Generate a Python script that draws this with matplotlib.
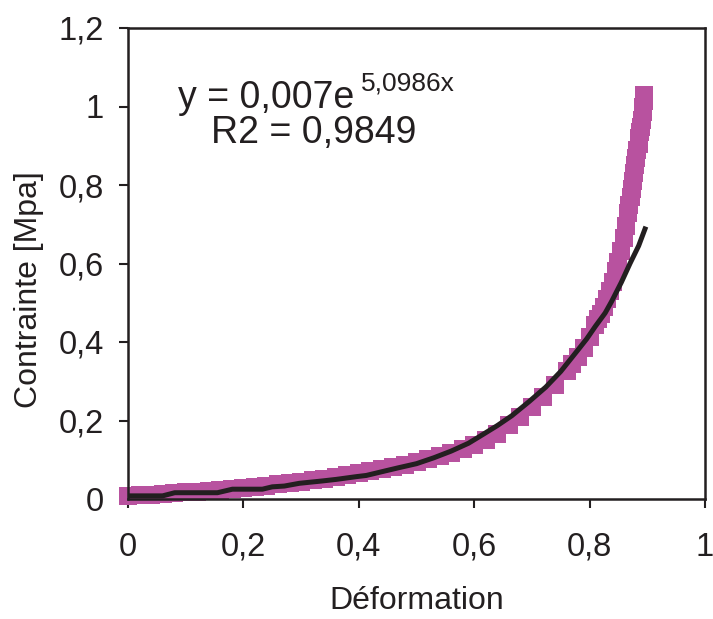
import matplotlib
matplotlib.use("Agg")
import matplotlib.pyplot as plt

# band of measured points (magenta squares)
strain = [0.00, 0.02, 0.04, 0.06, 0.08, 0.10, 0.12, 0.14, 0.16, 0.18,
          0.20, 0.22, 0.24, 0.26, 0.28, 0.30, 0.32, 0.34, 0.36, 0.38,
          0.40, 0.42, 0.44, 0.46, 0.48, 0.50, 0.52, 0.54, 0.56, 0.58,
          0.60, 0.62, 0.64, 0.66, 0.68, 0.70, 0.72, 0.74, 0.76, 0.77,
          0.78, 0.79, 0.80, 0.81, 0.815, 0.82, 0.825, 0.83, 0.835, 0.84,
          0.845, 0.85, 0.855, 0.86, 0.863, 0.867, 0.869, 0.871, 0.873, 0.875,
          0.877, 0.879, 0.881, 0.883, 0.885, 0.886, 0.888, 0.889, 0.891, 0.892,
          0.893, 0.894, 0.895]
stress = [0.008, 0.009, 0.011, 0.013, 0.015, 0.017, 0.019, 0.021, 0.023, 0.026,
          0.028, 0.031, 0.034, 0.037, 0.040, 0.044, 0.048, 0.052, 0.056, 0.061,
          0.066, 0.071, 0.076, 0.081, 0.087, 0.094, 0.101, 0.109, 0.118, 0.127,
          0.137, 0.150, 0.165, 0.188, 0.210, 0.235, 0.260, 0.290, 0.325, 0.343,
          0.362, 0.385, 0.413, 0.443, 0.458, 0.472, 0.490, 0.510, 0.530, 0.553,
          0.580, 0.605, 0.632, 0.665, 0.695, 0.729, 0.750, 0.770, 0.790, 0.810,
          0.830, 0.850, 0.870, 0.890, 0.905, 0.920, 0.935, 0.948, 0.965, 0.985,
          1.000, 1.015, 1.030]

# exponential trend line (black)
fit_x = [0.000, 0.060, 0.081, 0.155, 0.181, 0.233, 0.250, 0.271, 0.297, 0.337,
         0.361, 0.396, 0.413, 0.447, 0.470, 0.500, 0.530, 0.560, 0.590, 0.608,
         0.640, 0.665, 0.695, 0.724, 0.750, 0.781, 0.795, 0.810, 0.827, 0.838,
         0.855, 0.870, 0.885, 0.896]
fit_y = [0.008, 0.008, 0.016, 0.016, 0.025, 0.025, 0.031, 0.033, 0.040, 0.046,
         0.050, 0.057, 0.060, 0.072, 0.080, 0.090, 0.105, 0.122, 0.142, 0.158,
         0.187, 0.212, 0.248, 0.285, 0.325, 0.382, 0.408, 0.440, 0.474, 0.503,
         0.552, 0.600, 0.645, 0.688]

xticks = [0, 0.2, 0.4, 0.6, 0.8, 1]
xlabels = ["0", "0,2", "0,4", "0,6", "0,8", "1"]
yticks = [0, 0.2, 0.4, 0.6, 0.8, 1, 1.2]
ylabels = ["0", "0,2", "0,4", "0,6", "0,8", "1", "1,2"]

dark = "#231F20"
magenta = "#B8529F"
plt.rcParams["font.family"] = ["Liberation Sans", "DejaVu Sans"]

fig = plt.figure(figsize=(7.13, 6.19), dpi=100)
ax = fig.add_axes([128 / 713, 120 / 619, 577 / 713, 471 / 619])

ax.plot(strain, stress, linestyle="none", marker="s", markersize=13.5,
        color=magenta, markeredgewidth=0, clip_on=False, zorder=2)
ax.plot(fit_x, fit_y, color=dark, linewidth=3.6, zorder=3,
        solid_joinstyle="round")

ax.set_xlim(0, 1)
ax.set_ylim(0, 1.2)
ax.set_xticks(xticks)
ax.set_xticklabels(xlabels)
ax.set_yticks(yticks)
ax.set_yticklabels(ylabels)
ax.tick_params(axis="both", direction="out", length=6.5, width=1.5,
               color=dark, labelcolor=dark, labelsize=23.5)
ax.tick_params(axis="x", pad=17)
ax.tick_params(axis="y", pad=11)
for s in ax.spines.values():
    s.set_linewidth(1.8)
    s.set_color(dark)
    s.set_zorder(4)

ax.set_xlabel("Déformation", fontsize=23, color=dark, labelpad=17)
ax.set_ylabel("Contrainte [Mpa]", fontsize=23, color=dark)
ax.yaxis.set_label_coords(-0.145, 0.444)

# equation of the trend line
fig.text(178 / 713, 1 - 108 / 619, "y = 0,007e", fontsize=27, color=dark,
         ha="left", va="baseline")
fig.text(361 / 713, 1 - 90 / 619, "5,0986x", fontsize=19, color=dark,
         ha="left", va="baseline")
fig.text(211 / 713, 1 - 143 / 619, "R2 = 0,9849", fontsize=27, color=dark,
         ha="left", va="baseline")

fig.savefig("out.png", dpi=100)
